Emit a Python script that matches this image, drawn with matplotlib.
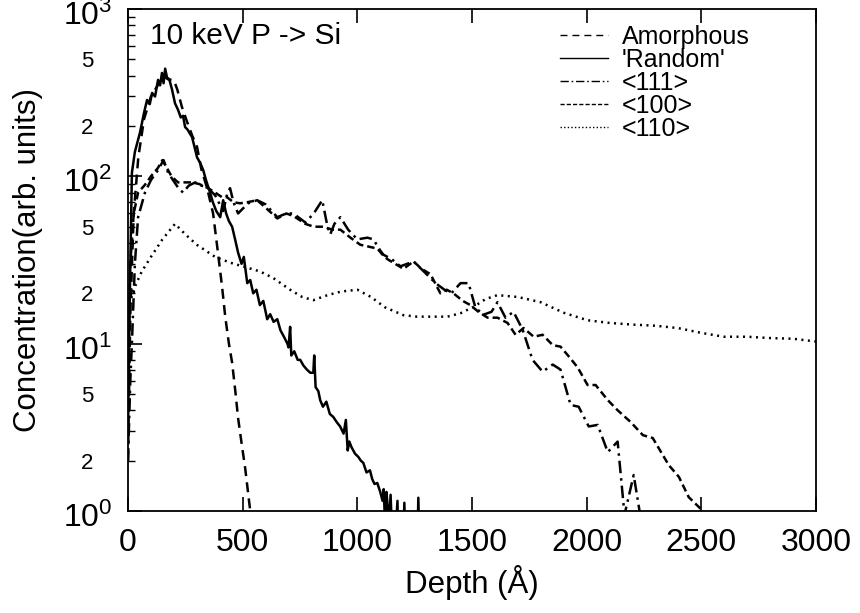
import matplotlib
matplotlib.use("Agg")
import matplotlib.pyplot as plt
import matplotlib.ticker as mticker
import matplotlib.transforms as mtransforms
from matplotlib.lines import Line2D

plt.rcParams["font.family"] = ["Liberation Sans", "DejaVu Sans"]
plt.rcParams["mathtext.fontset"] = "custom"
plt.rcParams["mathtext.rm"] = "Liberation Sans"
plt.rcParams["mathtext.default"] = "regular"

# ---------------------------------------------------------------
# data (depth in Angstrom, concentration arb.)
# ---------------------------------------------------------------
amorph_x = [0, 10, 25, 45, 70, 100, 130, 150, 175, 200, 215, 235, 258, 280,
            301, 320, 345, 371, 389, 410, 424, 440, 454, 468, 480, 496, 511,
            533, 545]
amorph_y = [2, 15, 60, 130, 220, 300, 350, 400, 380, 375, 330, 260, 211, 175,
            150, 110, 85, 60, 38, 22, 14.5, 10, 7.7, 5.2, 3.6, 2.5, 1.8,
            1.0, 0.7]

random_x = [0, 8, 17, 30, 52, 70, 83, 95, 105, 118, 131, 140, 148, 155, 162,
            170, 180, 192, 205, 218, 230, 240, 249, 260, 270, 279, 290, 301,
            315, 328, 340, 358, 370, 385, 402, 415, 428, 440, 454, 467, 480,
            495, 505, 520, 533, 546, 560, 575, 590, 607, 620, 635, 651, 665,
            680, 695, 700, 707, 712, 725, 740, 751, 765, 780, 795, 808, 812,
            818, 830, 838, 850, 865, 880, 895, 910, 925, 940, 950, 958, 965,
            975, 990, 1005, 1015, 1026, 1040, 1055, 1065, 1075, 1087, 1100,
            1110, 1115, 1120, 1127, 1131, 1138, 1145, 1152, 1160, 1175, 1180,
            1198, 1205, 1212, 1260, 1266, 1272]
random_y = [3, 20, 105, 140, 182, 240, 286, 270, 315, 300, 377, 350, 415, 360,
            440, 390, 380, 330, 273, 250, 225, 230, 197, 190, 180, 172, 150,
            130, 120, 109, 95, 80, 70, 62, 57, 72, 60, 54, 50, 42, 35, 30, 33,
            23, 24, 20, 21, 17, 18, 14, 15, 13.5, 14, 12, 11, 10, 9.5, 12.6,
            8.5, 9, 8, 8, 7.4, 7, 6.7, 6.7, 8.5, 5.5, 5.2, 4.6, 4.2, 4.5, 3.8,
            3.65, 3.4, 3.2, 2.9, 3.5, 2.3, 2.6, 2.4, 2.2, 2.1, 2.0, 1.94, 1.7,
            1.75, 1.55, 1.45, 1.47, 1.3, 1.15, 1.35, 0.9, 1.3, 1.12, 0.8, 1.25,
            0.7, 0.5, 1.15, 0.5, 0.5, 1.12, 0.5, 0.5, 1.2, 0.5]

d111_x = [0, 10, 17, 30, 44, 74, 100, 131, 155, 175, 196, 220, 240, 265, 293,
          320, 349, 380, 415, 432, 445, 460, 480, 500, 524, 563, 600, 651,
          690, 721, 773, 810, 847, 870, 882, 900, 926, 960, 1000, 1044, 1070,
          1100, 1114, 1150, 1188, 1245, 1290, 1341, 1380, 1410, 1450, 1485,
          1515, 1550, 1585, 1611, 1646, 1681, 1721, 1764, 1808, 1852, 1886,
          1930, 1965, 2009, 2048, 2092, 2135, 2165, 2205, 2236]
d111_y = [2, 6, 10, 30, 57, 80, 95, 109, 125, 105, 95, 85, 80, 88, 92, 88, 85,
          77, 62, 78, 85, 70, 60, 64, 69, 72, 68, 57, 60, 60, 53, 60, 72, 50,
          45, 52, 57, 48, 42, 43, 42, 36, 34, 32, 29, 31, 27, 23, 21, 20, 23,
          23, 16.4, 14.9, 15.5, 17.7, 14.3, 15.5, 12.1, 8.0, 6.8, 7.5, 7.0,
          4.3, 4.2, 3.2, 3.27, 2.25, 2.6, 0.95, 1.64, 0.9]

d100_x = [0, 10, 25, 44, 74, 100, 130, 150, 162, 190, 218, 250, 279, 310,
          349, 380, 410, 432, 460, 489, 520, 563, 600, 651, 690, 721, 773,
          810, 852, 890, 926, 970, 1013, 1050, 1087, 1110, 1131, 1165, 1201,
          1245, 1280, 1319, 1362, 1390, 1419, 1460, 1493, 1528, 1568, 1611,
          1655, 1690, 1725, 1769, 1808, 1852, 1886, 1925, 1961, 2004, 2039,
          2092, 2135, 2192, 2245, 2288, 2332, 2358, 2402, 2445, 2507, 2530]
d100_y = [8, 30, 60, 80, 89, 100, 112, 125, 117, 100, 92, 92, 92, 90, 85, 80,
          75, 75, 70, 69, 70, 72, 65, 56, 60, 58, 52, 50, 50, 48, 48, 43, 39,
          38, 37, 34, 32, 30, 28, 31, 28, 26, 20, 21, 20, 18, 17, 15.5, 14.3,
          14.3, 13.3, 11.3, 12.4, 11, 11.3, 9.8, 9.6, 8.3, 7.2, 5.66, 5.66,
          4.6, 4.0, 3.4, 2.84, 2.73, 2.16, 1.88, 1.6, 1.21, 1.0, 0.8]

d110_x = [0, 17, 60, 100, 150, 205, 250, 300, 380, 445, 511, 576, 633, 707,
          760, 808, 870, 930, 1000, 1060, 1120, 1201, 1260, 1319, 1393, 1450,
          1507, 1560, 1611, 1700, 1799, 1900, 2004, 2100, 2200, 2300, 2397,
          2500, 2598, 2700, 2800, 2900, 3000]
d110_y = [12, 20, 27, 33, 42, 52, 45, 39, 33, 30.5, 28.7, 27, 24.7, 21, 19,
          18.2, 19.5, 20.5, 21, 19, 16.5, 14.8, 14.5, 14.5, 14.5, 15.2, 16.6,
          18.5, 19.5, 19, 17.7, 15.3, 13.8, 13.3, 13, 12.8, 12.4, 11.6, 11,
          11, 10.8, 10.7, 10.3]

DATA_LW = 1.8
LEG_LW = 1.0

# label, x, y, dash pattern on the curve, dash pattern in the key
series = [
    ("Amorphous", amorph_x, amorph_y, (4, 2.5), (5, 3.6)),
    ("'Random'", random_x, random_y, None, None),
    ("<111>", d111_x, d111_y, (5, 2, 1, 2), (6, 2, 1.2, 2)),
    ("<100>", d100_x, d100_y, (3, 1.6), (3, 1.5)),
    ("<110>", d110_x, d110_y, (0.8, 1.8), (1, 1.6)),
]

fig = plt.figure(figsize=(8.6, 6.13), dpi=100)
ax = fig.add_axes([128 / 860, 102 / 613, 688 / 860, 502 / 613])

handles = []
for label, xs, ys, dash, leg_dash in series:
    ls_data = "-" if dash is None else (0, dash)
    ls_leg = "-" if leg_dash is None else (0, leg_dash)
    ax.plot(xs, ys, color="black", linestyle=ls_data, linewidth=DATA_LW)
    handles.append(Line2D([], [], color="black", linestyle=ls_leg,
                          linewidth=LEG_LW, label=label))

ax.set_yscale("log")
ax.set_xlim(0, 3000)
ax.set_ylim(1, 1000)

ax.xaxis.set_major_locator(mticker.MultipleLocator(500))
ax.yaxis.set_major_locator(mticker.FixedLocator([1, 10, 100, 1000]))
ax.yaxis.set_major_formatter(mticker.FixedFormatter(
    ["$10^{0}$", "$10^{1}$", "$10^{2}$", "$10^{3}$"]))
minor_pos = [m * 10 ** e for e in range(3) for m in range(2, 10)]
minor_lab = [("%d" % m) if m in (2, 5) else "" for e in range(3) for m in range(2, 10)]
ax.yaxis.set_minor_locator(mticker.FixedLocator(minor_pos))
ax.yaxis.set_minor_formatter(mticker.FixedFormatter(minor_lab))

ax.tick_params(axis="x", which="major", direction="in", top=True, length=10,
               width=1.2, labelsize=23, pad=12)
ax.tick_params(axis="y", which="major", direction="in", right=False, length=10,
               width=1.2, labelsize=23, pad=11)
ax.tick_params(axis="y", which="minor", direction="in", right=False, length=5,
               width=1.0, labelsize=16, pad=25)
for s in ax.spines.values():
    s.set_linewidth(1.3)

# the "10" of each power label sits a little below its tick
shift = mtransforms.ScaledTranslation(0, -4 / 100, fig.dpi_scale_trans)
for t in ax.yaxis.get_major_ticks():
    t.label1.set_transform(t.label1.get_transform() + shift)

ax.set_xlabel("Depth (Å)", fontsize=22.5, labelpad=5)
ax.set_ylabel("Concentration(arb. units)", fontsize=22.5)
ax.yaxis.set_label_coords(-0.123, 0.5)

ax.text(0.032, 0.946, "10 keV P -> Si", transform=ax.transAxes,
        fontsize=21.5, ha="left", va="center")

ax.legend(handles=handles, loc="upper left", bbox_to_anchor=(0.628, 0.968),
          frameon=False, fontsize=18, handlelength=1.92, handletextpad=0.56,
          labelspacing=-0.04, borderpad=0, borderaxespad=0)

fig.savefig("out.png", dpi=100)
